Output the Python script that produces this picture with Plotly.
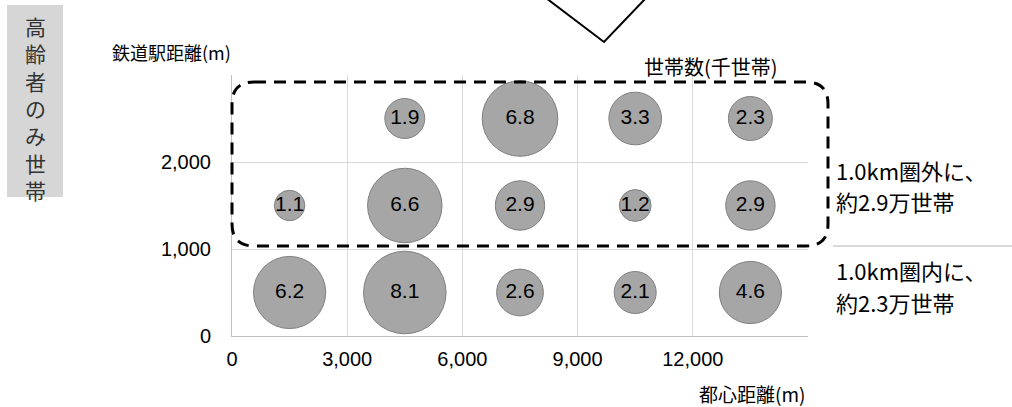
import plotly.graph_objects as go

# ---- data ----
x_centers = [1500, 4500, 7500, 10500, 13500]
y_rows = [2500, 1500, 500]
row_2500 = [None, 1.9, 6.8, 3.3, 2.3]
row_1500 = [1.1, 6.6, 2.9, 1.2, 2.9]
row_500 = [6.2, 8.1, 2.6, 2.1, 4.6]
x_ticks = [0, 3000, 6000, 9000, 12000]
x_tick_text = ["0", "3,000", "6,000", "9,000", "12,000"]
y_ticks = [0, 1000, 2000]
y_tick_text = ["0", "1,000", "2,000"]

xs, ys, vals = [], [], []
for yv, row in zip(y_rows, [row_2500, row_1500, row_500]):
    for xv, v in zip(x_centers, row):
        if v is not None:
            xs.append(xv)
            ys.append(yv)
            vals.append(v)

W, H = 1012, 407
L, R, T, B = 232, 204, 75, 71
PW, PH = W - L - R, H - T - B

def px(x):
    return (x - L) / PW

def py(y):
    return (H - B - y) / PH

JP = "Noto Sans CJK JP"
NUM = "Arial, Liberation Sans, sans-serif"

fig = go.Figure()
fig.add_trace(go.Scatter(
    x=xs, y=ys, mode="markers+text",
    text=[f"{v:.1f}" for v in vals],
    textposition="middle center",
    textfont=dict(family=NUM, size=21, color="#000000"),
    marker=dict(size=vals, sizemode="area", sizeref=2 / 841, opacity=1,
                color="#A6A6A6", line=dict(color="#7F7F7F", width=1)),
    hoverinfo="skip", showlegend=False, cliponaxis=False,
))

# rounded dashed rectangle
x0, y0, x1, y1, r = 232, 82, 828, 246, 22
pts = [
    ("M", [(x0 + r, y0)]), ("L", [(x1 - r, y0)]), ("Q", [(x1, y0), (x1, y0 + r)]),
    ("L", [(x1, y1 - r)]), ("Q", [(x1, y1), (x1 - r, y1)]),
    ("L", [(x0 + r, y1)]), ("Q", [(x0, y1), (x0, y1 - r)]),
    ("L", [(x0, y0 + r)]), ("Q", [(x0, y0), (x0 + r, y0)]),
]
path = ""
for cmd, ps in pts:
    path += cmd + " " + " ".join(f"{px(a):.5f},{py(b):.5f}" for a, b in ps) + " "
path += "Z"

shapes = [
    dict(type="path", xref="paper", yref="paper", path=path,
         line=dict(color="#000000", width=3, dash="12px,8px"), layer="above"),
    # top V shape
    dict(type="path", xref="paper", yref="paper",
         path=f"M {px(546):.5f},{py(-2):.5f} L {px(604):.5f},{py(42):.5f} L {px(646):.5f},{py(-2):.5f}",
         line=dict(color="#000000", width=2)),
    # left grey box
    dict(type="rect", xref="paper", yref="paper",
         x0=px(7), x1=px(63), y0=py(197), y1=py(5),
         fillcolor="#D6D6D6", line=dict(width=0), layer="below"),
    # right separator line
    dict(type="line", xref="paper", yref="paper",
         x0=px(833), x1=px(1012), y0=py(246), y1=py(246),
         line=dict(color="#B4B4B4", width=1)),
]

side_label = "高齢者のみ世帯"

annotations = [
    dict(text="鉄道駅距離(m)", x=px(110), y=py(52), xanchor="left", yanchor="middle",
         font=dict(family=JP, size=18, color="#000000")),
    dict(text="世帯数(千世帯)", x=px(642), y=py(67), xanchor="left", yanchor="middle",
         font=dict(family=JP, size=20, color="#000000")),
    dict(text="都心距離(m)", x=px(697), y=py(393), xanchor="left", yanchor="middle",
         font=dict(family=JP, size=19, color="#000000")),
    dict(text="1.0km圏外に、", x=px(834), y=py(170), xanchor="left", yanchor="middle",
         font=dict(family=JP, size=22, color="#000000")),
    dict(text="約2.9万世帯", x=px(834), y=py(201), xanchor="left", yanchor="middle",
         font=dict(family=JP, size=22, color="#000000")),
    dict(text="1.0km圏内に、", x=px(834), y=py(270), xanchor="left", yanchor="middle",
         font=dict(family=JP, size=22, color="#000000")),
    dict(text="約2.3万世帯", x=px(834), y=py(302), xanchor="left", yanchor="middle",
         font=dict(family=JP, size=22, color="#000000")),
    dict(text="<br>".join(side_label), x=px(35), y=py(108),
         xanchor="center", yanchor="middle", align="center",
         font=dict(family=JP, size=21, color="#333333")),
]
for a in annotations:
    a.update(xref="paper", yref="paper", showarrow=False)

fig.update_layout(
    width=W, height=H,
    margin=dict(l=L, r=R, t=T, b=B, pad=0),
    paper_bgcolor="#FFFFFF", plot_bgcolor="#FFFFFF",
    xaxis=dict(range=[0, 15000], tickvals=x_ticks, ticktext=x_tick_text,
               showgrid=True, gridcolor="#D9D9D9", gridwidth=1,
               showline=True, linecolor="#C0C0C0", linewidth=1, zeroline=False,
               ticks="", ticklabelstandoff=5,
               tickfont=dict(family=NUM, size=20, color="#000000"), fixedrange=True),
    yaxis=dict(range=[0, 3000], tickvals=y_ticks, ticktext=y_tick_text,
               showgrid=True, gridcolor="#D9D9D9", gridwidth=1,
               showline=True, linecolor="#C0C0C0", linewidth=1, zeroline=False,
               ticks="", ticklabelstandoff=16,
               tickfont=dict(family=NUM, size=20, color="#000000"), fixedrange=True),
    shapes=shapes, annotations=annotations,
)

fig.write_html("out.html")
